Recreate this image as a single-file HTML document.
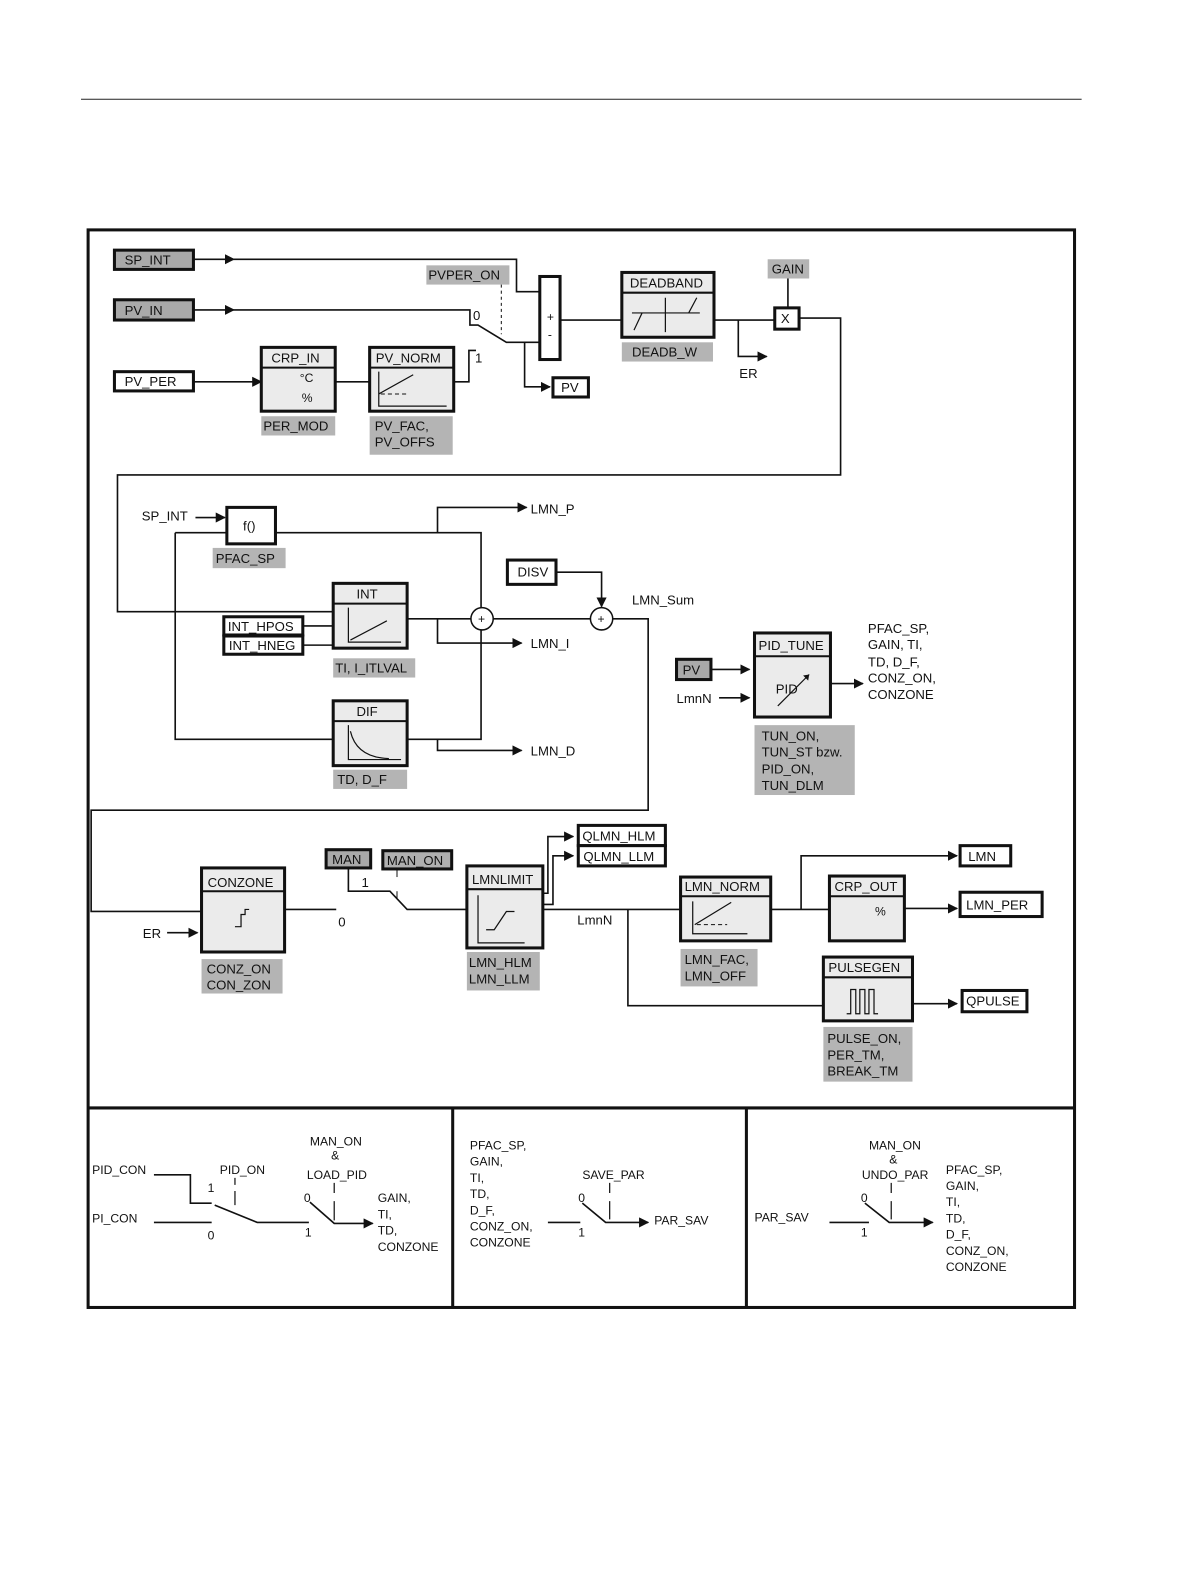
<!DOCTYPE html>
<html><head><meta charset="utf-8"><style>
html,body{margin:0;padding:0;background:#fff;overflow:hidden;width:1191px;height:1587px}
svg{display:block;position:absolute;left:0;top:0}
text{font-family:"Liberation Sans Narrow","Liberation Sans",sans-serif;font-size:13px;fill:#111}
.s{font-size:12px}
.b{fill:#ebebeb;stroke:#111;stroke-width:3}
.w{fill:#fff;stroke:#111;stroke-width:3}
.g{fill:#a9a9a9;stroke:#111;stroke-width:3}
.lab{fill:#b4b4b4;stroke:none}
.l{fill:none;stroke:#111;stroke-width:1.6}
.t{fill:none;stroke:#111;stroke-width:1.2}
</style></head><body>
<svg width="1191" height="1587" viewBox="0 0 1176 1567" preserveAspectRatio="xMinYMin meet" xmlns="http://www.w3.org/2000/svg">
<defs><marker id="a" markerWidth="10" markerHeight="10" refX="9" refY="5" orient="auto" markerUnits="userSpaceOnUse"><path d="M0,0 L10,5 L0,10z" fill="#111"/></marker></defs>
<line x1="80" y1="98" x2="1068" y2="98" stroke="#222" stroke-width="1"/>
<rect x="87" y="227" width="974" height="1064" fill="none" stroke="#111" stroke-width="3"/>
<line x1="87" y1="1094" x2="1061" y2="1094" stroke="#111" stroke-width="3"/>
<line x1="447" y1="1094" x2="447" y2="1291" stroke="#111" stroke-width="3"/>
<line x1="737" y1="1094" x2="737" y2="1291" stroke="#111" stroke-width="3"/>

<rect class="g" x="113" y="247" width="78" height="19"/><text x="123" y="261">SP_INT</text>
<rect class="g" x="113" y="296" width="78" height="20"/><text x="123" y="311">PV_IN</text>
<rect class="w" x="113" y="367" width="78" height="19"/><text x="123" y="381">PV_PER</text>
<path class="l" d="M191,256 H231" marker-end="url(#a)"/><path class="l" d="M231,256 H510 V288 H533"/>
<path class="l" d="M191,306 H231" marker-end="url(#a)"/><path class="l" d="M231,306 H464 V321 H472 L500,338 H533"/>
<text x="467" y="316">0</text>
<rect class="lab" x="421" y="262" width="82" height="19"/><text x="423" y="276">PVPER_ON</text>
<line x1="495" y1="281" x2="495" y2="330" stroke="#111" stroke-width="1" stroke-dasharray="3,3"/>
<path class="l" d="M518,338 V382 H543" marker-end="url(#a)"/>
<rect class="w" x="546" y="373" width="35" height="19"/><text x="554" y="387">PV</text>
<path class="l" d="M191,377 H258" marker-end="url(#a)"/>
<rect class="b" x="258" y="343" width="73" height="63"/><line x1="258" y1="363" x2="331" y2="363" stroke="#111" stroke-width="2"/>
<text x="268" y="358">CRP_IN</text><text x="296" y="377" class="s">°C</text><text x="298" y="397" class="s">%</text>
<path class="l" d="M331,377 H365"/>
<rect class="b" x="365" y="343" width="83" height="63"/><line x1="365" y1="363" x2="448" y2="363" stroke="#111" stroke-width="2"/>
<text x="371" y="358">PV_NORM</text>
<path class="t" d="M374,367 V401 H441 M374,389 L408,370"/><path d="M376,389 H402" stroke="#111" stroke-dasharray="4,3"/>
<path class="l" d="M448,377 H463 V346 H470"/><text x="469" y="358">1</text>
<rect class="lab" x="258" y="411" width="73" height="19"/><text x="260" y="425">PER_MOD</text>
<rect class="lab" x="365" y="411" width="82" height="38"/><text x="370" y="425">PV_FAC,</text><text x="370" y="441">PV_OFFS</text>
<rect class="w" x="533" y="273" width="20" height="82"/><text x="540" y="317" class="s">+</text><text x="541" y="334" class="s">-</text>
<path class="l" d="M553,316 H614"/>
<rect class="b" x="614" y="269" width="91" height="64"/><line x1="614" y1="289" x2="705" y2="289" stroke="#111" stroke-width="2"/>
<text x="622" y="284">DEADBAND</text>
<path class="t" d="M624,309 H691 M657,294 V328 M626,326 L634,309 M680,309 L688,294"/>
<rect class="lab" x="614" y="338" width="90" height="19"/><text x="624" y="352">DEADB_W</text>
<path class="l" d="M705,316 H765 M729,316 V352 H757" marker-end="url(#a)"/>
<text x="730" y="373">ER</text>
<rect class="w" x="765" y="304" width="24" height="21"/><text x="771" y="319">X</text>
<rect class="lab" x="758" y="256" width="41" height="19"/><text x="762" y="270">GAIN</text>
<path class="l" d="M778,275 V304 M789,314 H830 V469 H116 V604 H329"/>

<text x="140" y="514">SP_INT</text><path class="l" d="M193,511 H222" marker-end="url(#a)"/>
<path class="l" d="M173,526 H475 V730 H402 M173,526 V730 H329"/>
<rect class="w" x="224" y="501" width="48" height="36"/><text x="240" y="524">f()</text>
<rect class="lab" x="210" y="541" width="72" height="20"/><text x="213" y="556">PFAC_SP</text>
<path class="l" d="M432,526 V501 H520" marker-end="url(#a)"/><text x="524" y="507">LMN_P</text>
<rect class="b" x="329" y="576" width="73" height="64"/><line x1="329" y1="596" x2="402" y2="596" stroke="#111" stroke-width="2"/>
<text x="352" y="591">INT</text><path class="t" d="M344,600 V634 H396 M346,632 L382,613"/>
<rect class="w" x="221" y="609" width="78" height="18"/><text x="225" y="623">INT_HPOS</text>
<rect class="w" x="221" y="628" width="78" height="18"/><text x="226" y="642">INT_HNEG</text>
<path class="l" d="M299,618 H329 M299,637 H329"/>
<rect class="lab" x="329" y="650" width="81" height="19"/><text x="331" y="664">TI, I_ITLVAL</text>
<path class="l" d="M402,611 H465 M487,611 H583 M605,611 H640 V800 H90 V900 H199"/>
<circle cx="476" cy="611" r="11" fill="#fff" stroke="#111" stroke-width="1.5"/><text x="472" y="615" class="s">+</text>
<circle cx="594" cy="611" r="11" fill="#fff" stroke="#111" stroke-width="1.5"/><text x="590" y="615" class="s">+</text>
<path class="l" d="M432,611 V635 H515" marker-end="url(#a)"/><text x="524" y="640">LMN_I</text>
<rect class="w" x="501" y="553" width="48" height="24"/><text x="511" y="569">DISV</text>
<path class="l" d="M549,565 H594 V599" marker-end="url(#a)"/>
<text x="624" y="597">LMN_Sum</text>
<rect class="b" x="329" y="692" width="73" height="64"/><line x1="329" y1="712" x2="402" y2="712" stroke="#111" stroke-width="2"/>
<text x="352" y="707">DIF</text><path class="t" d="M344,716 V750 H396 M346,722 Q352,748 384,749"/>
<rect class="lab" x="329" y="760" width="73" height="19"/><text x="333" y="774">TD, D_F</text>
<path class="l" d="M432,730 V741 H515" marker-end="url(#a)"/><text x="524" y="746">LMN_D</text>
<rect class="b" x="745" y="625" width="75" height="83"/><line x1="745" y1="648" x2="820" y2="648" stroke="#111" stroke-width="2"/>
<text x="749" y="642">PID_TUNE</text><text x="766" y="685">PID</text><path class="t" d="M768,697 L799,666"/><path d="M799,666 l-6,1 l5,5z" fill="#111"/>
<rect class="g" x="668" y="651" width="34" height="20"/><text x="674" y="666">PV</text>
<path class="l" d="M702,661 H740" marker-end="url(#a)"/>
<text x="668" y="694">LmnN</text><path class="l" d="M710,689 H740" marker-end="url(#a)"/>
<path class="l" d="M820,675 H852" marker-end="url(#a)"/>
<text x="857" y="625">PFAC_SP,</text><text x="857" y="641">GAIN, TI,</text><text x="857" y="658">TD, D_F,</text><text x="857" y="674">CONZ_ON,</text><text x="857" y="690">CONZONE</text>
<rect class="lab" x="745" y="716" width="99" height="69"/>
<text x="752" y="731">TUN_ON,</text><text x="752" y="747">TUN_ST bzw.</text><text x="752" y="764">PID_ON,</text><text x="752" y="780">TUN_DLM</text>

<rect class="b" x="199" y="857" width="82" height="83"/><line x1="199" y1="880" x2="281" y2="880" stroke="#111" stroke-width="2"/>
<text x="205" y="876">CONZONE</text><path class="t" d="M232,915 H238 V903 H242 V898 H246"/>
<rect class="lab" x="199" y="947" width="80" height="34"/><text x="204" y="961">CONZ_ON</text><text x="204" y="977">CON_ZON</text>
<text x="141" y="926">ER</text><path class="l" d="M165,921 H195" marker-end="url(#a)"/>
<path class="l" d="M281,898 H332"/><text x="334" y="915">0</text>
<rect class="g" x="322" y="839" width="44" height="18"/><text x="328" y="853">MAN</text>
<rect class="g" x="378" y="840" width="68" height="18" style="fill:#b0b0b0"/><text x="382" y="854">MAN_ON</text>
<path class="l" d="M344,857 V880 H385 L402,898 H461"/><text x="357" y="876">1</text>
<line x1="392" y1="858" x2="392" y2="866" stroke="#111" stroke-width="1"/><line x1="392" y1="880" x2="392" y2="888" stroke="#111" stroke-width="1"/>
<rect class="b" x="461" y="855" width="75" height="81"/><line x1="461" y1="878" x2="536" y2="878" stroke="#111" stroke-width="2"/>
<text x="466" y="873">LMNLIMIT</text><path class="t" d="M472,884 V931 H518 M480,918 H488 L500,900 H508"/>
<rect class="lab" x="461" y="940" width="72" height="38"/><text x="463" y="955">LMN_HLM</text><text x="463" y="971">LMN_LLM</text>
<path class="l" d="M536,882 H541 V826 H566" marker-end="url(#a)"/><path class="l" d="M536,893 H546 V845 H566" marker-end="url(#a)"/>
<rect class="w" x="571" y="815" width="86" height="20"/><text x="575" y="830">QLMN_HLM</text>
<rect class="w" x="571" y="835" width="86" height="20"/><text x="576" y="850">QLMN_LLM</text>
<path class="l" d="M536,898 H672"/><text x="570" y="913">LmnN</text>
<path class="l" d="M620,898 V993 H813"/>
<rect class="b" x="672" y="866" width="89" height="63"/><line x1="672" y1="885" x2="761" y2="885" stroke="#111" stroke-width="2"/>
<text x="676" y="880">LMN_NORM</text><path class="t" d="M684,890 V922 H738 M686,913 L722,891"/><path d="M688,913 H718" stroke="#111" stroke-dasharray="4,3"/>
<rect class="lab" x="672" y="937" width="76" height="37"/><text x="676" y="952">LMN_FAC,</text><text x="676" y="968">LMN_OFF</text>
<path class="l" d="M761,898 H819 M791,898 V845 H945" marker-end="url(#a)"/>
<rect class="b" x="819" y="865" width="74" height="64"/><line x1="819" y1="885" x2="893" y2="885" stroke="#111" stroke-width="2"/>
<text x="824" y="880">CRP_OUT</text><text x="864" y="904" class="s">%</text>
<path class="l" d="M893,897 H945" marker-end="url(#a)"/>
<rect class="w" x="948" y="835" width="50" height="20"/><text x="956" y="850">LMN</text>
<rect class="w" x="948" y="881" width="81" height="24"/><text x="954" y="898">LMN_PER</text>
<rect class="b" x="813" y="945" width="88" height="63"/><line x1="813" y1="965" x2="901" y2="965" stroke="#111" stroke-width="2"/>
<text x="818" y="960">PULSEGEN</text><path class="t" d="M836,1001 H840 V977 H845 V1001 H849 V977 H854 V1001 H858 V977 H863 V1001 H867"/>
<path class="l" d="M901,991 H945" marker-end="url(#a)"/>
<rect class="w" x="950" y="978" width="64" height="21"/><text x="954" y="993">QPULSE</text>
<rect class="lab" x="813" y="1014" width="88" height="54"/><text x="817" y="1030">PULSE_ON,</text><text x="817" y="1046">PER_TM,</text><text x="817" y="1062">BREAK_TM</text>

<g class="s">
<text x="91" y="1159" class="s">PID_CON</text><text x="91" y="1207" class="s">PI_CON</text>
<path class="l" d="M152,1160 H188 V1188 H209 M152,1207 H209 M212,1190 L254,1207 H305"/>
<text x="205" y="1177" class="s">1</text><text x="205" y="1224" class="s">0</text>
<text x="217" y="1159" class="s">PID_ON</text><path class="t" d="M232,1163 V1170 M232,1176 V1190"/>
<text x="306" y="1131" class="s">MAN_ON</text><text x="327" y="1145" class="s">&amp;</text><text x="303" y="1164" class="s">LOAD_PID</text>
<path class="t" d="M330,1168 V1178 M330,1186 V1205"/>
<text x="300" y="1187" class="s">0</text><text x="301" y="1221" class="s">1</text>
<path class="l" d="M306,1187 L330,1208 H368" marker-end="url(#a)"/>
<text x="373" y="1187" class="s">GAIN,</text><text x="373" y="1203" class="s">TI,</text><text x="373" y="1219" class="s">TD,</text><text x="373" y="1235" class="s">CONZONE</text>

<text x="464" y="1135" class="s">PFAC_SP,</text><text x="464" y="1151" class="s">GAIN,</text><text x="464" y="1167" class="s">TI,</text><text x="464" y="1183" class="s">TD,</text><text x="464" y="1199" class="s">D_F,</text><text x="464" y="1215" class="s">CONZ_ON,</text><text x="464" y="1231" class="s">CONZONE</text>
<text x="575" y="1164" class="s">SAVE_PAR</text><path class="t" d="M602,1168 V1178 M602,1186 V1204"/>
<text x="571" y="1187" class="s">0</text><text x="571" y="1221" class="s">1</text>
<path class="l" d="M541,1207 H573 M575,1188 L598,1207 H640" marker-end="url(#a)"/>
<text x="646" y="1209" class="s">PAR_SAV</text>

<text x="745" y="1206" class="s">PAR_SAV</text>
<text x="858" y="1135" class="s">MAN_ON</text><text x="878" y="1149" class="s">&amp;</text><text x="851" y="1164" class="s">UNDO_PAR</text>
<path class="t" d="M880,1168 V1178 M880,1186 V1204"/>
<text x="850" y="1187" class="s">0</text><text x="850" y="1221" class="s">1</text>
<path class="l" d="M819,1207 H858 M854,1188 L878,1207 H921" marker-end="url(#a)"/>
<text x="934" y="1159" class="s">PFAC_SP,</text><text x="934" y="1175" class="s">GAIN,</text><text x="934" y="1191" class="s">TI,</text><text x="934" y="1207" class="s">TD,</text><text x="934" y="1223" class="s">D_F,</text><text x="934" y="1239" class="s">CONZ_ON,</text><text x="934" y="1255" class="s">CONZONE</text>
</g>
</svg>
</body></html>
